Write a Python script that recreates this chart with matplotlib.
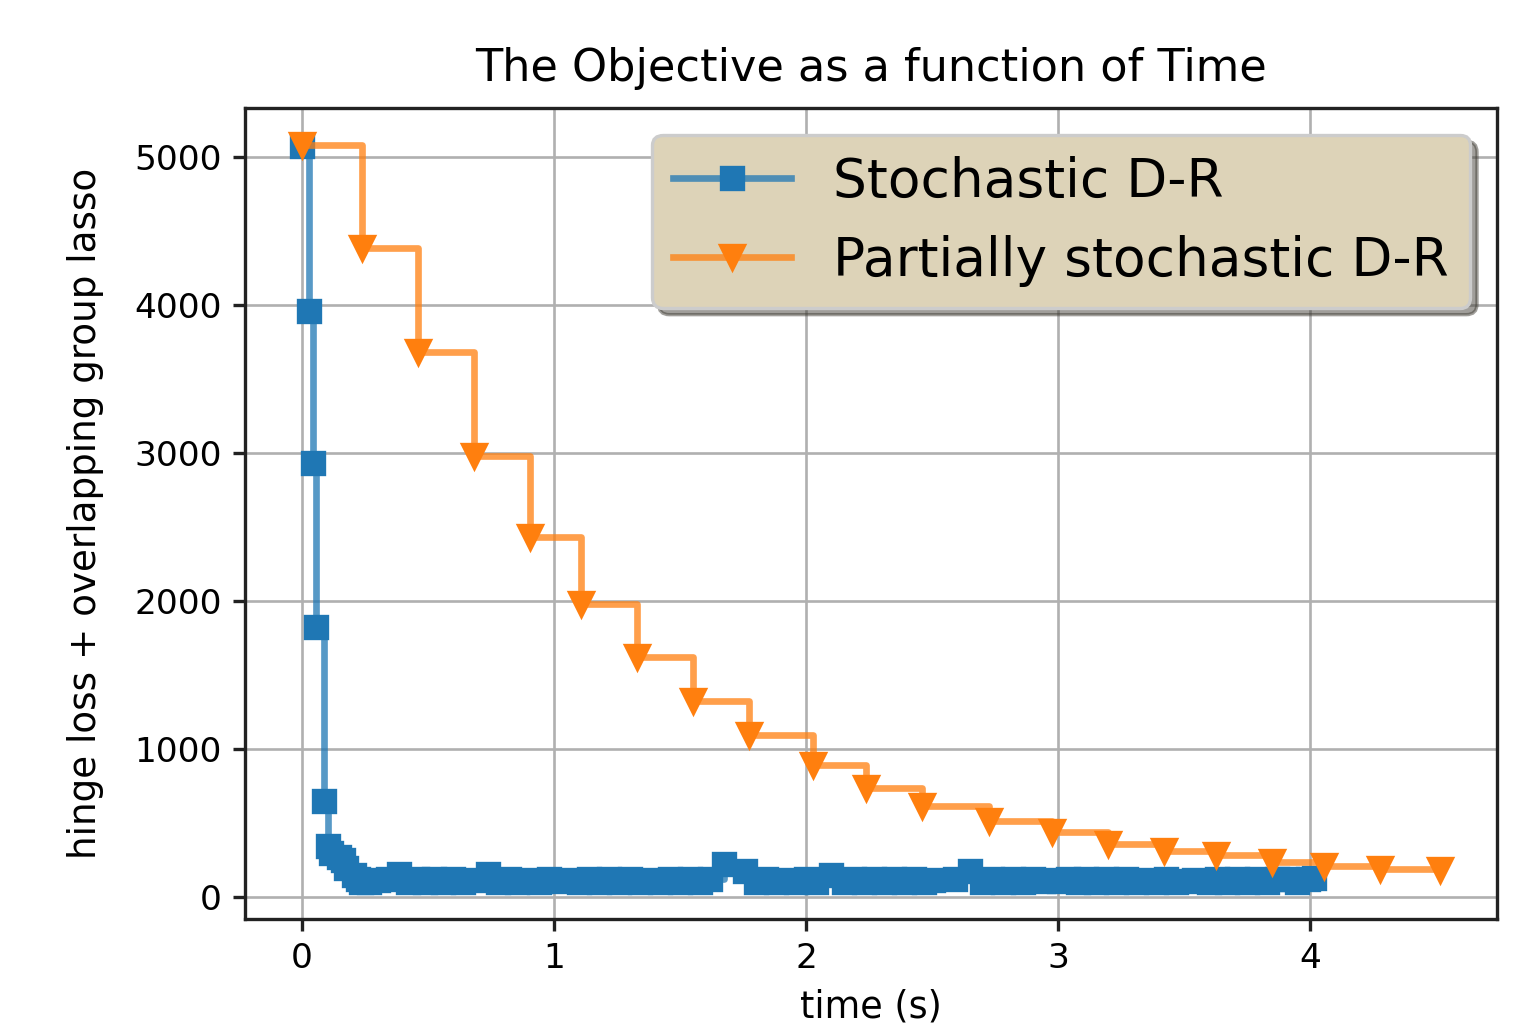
import matplotlib
matplotlib.use("Agg")
import matplotlib.pyplot as plt
from matplotlib.legend_handler import HandlerTuple

# ---------------- data ----------------
title = "The Objective as a function of Time"
xlabel = "time (s)"
ylabel = "hinge loss + overlapping group lasso"
label_sto = "Stochastic D-R"
label_part = "Partially stochastic D-R"

# Stochastic D-R (time, objective)
sto_time = [0.000, 0.027, 0.044, 0.056, 0.087, 0.104, 0.116, 0.146, 0.162, 0.175,
            0.206, 0.221, 0.235, 0.265, 0.300, 0.340, 0.384, 0.420, 0.455, 0.490,
            0.525, 0.560, 0.600, 0.640, 0.680, 0.740, 0.780, 0.820, 0.855, 0.905,
            0.940, 0.980, 1.020, 1.060, 1.100, 1.140, 1.180, 1.220, 1.260, 1.300,
            1.340, 1.380, 1.420, 1.460, 1.500, 1.540, 1.580, 1.620, 1.675, 1.760,
            1.800, 1.840, 1.880, 1.920, 1.960, 2.000, 2.040, 2.100, 2.150, 2.190,
            2.230, 2.270, 2.310, 2.350, 2.390, 2.430, 2.470, 2.505, 2.590, 2.650,
            2.700, 2.740, 2.780, 2.820, 2.860, 2.900, 2.940, 2.970, 3.005, 3.040,
            3.080, 3.110, 3.150, 3.190, 3.230, 3.270, 3.310, 3.350, 3.390, 3.430,
            3.470, 3.510, 3.540, 3.600, 3.630, 3.670, 3.710, 3.750, 3.790, 3.830,
            3.870, 3.910, 3.950, 3.990, 4.015]
sto_obj = [5075, 3955, 2930, 1825, 648, 346, 299, 272, 246, 192,
           145, 118, 99, 100, 114, 118, 151, 100, 121, 101,
           118, 100, 122, 103, 112, 151, 100, 120, 101, 112,
           100, 122, 104, 116, 100, 121, 102, 118, 100, 123,
           101, 115, 100, 122, 102, 118, 100, 117, 224, 171,
           100, 121, 102, 116, 100, 122, 101, 150, 100, 119,
           102, 121, 100, 118, 101, 122, 103, 112, 118, 171,
           100, 120, 102, 117, 100, 121, 105, 112, 106, 118,
           102, 121, 100, 118, 103, 122, 100, 116, 101, 121,
           102, 104, 112, 100, 121, 102, 118, 100, 122, 101,
           119, 123, 102, 120, 128]

# Partially stochastic D-R (time, objective)
part_time = [0.000, 0.238, 0.460, 0.683, 0.905, 1.107, 1.329, 1.552, 1.774, 2.028,
             2.238, 2.460, 2.726, 2.976, 3.198, 3.421, 3.627, 3.849, 4.056, 4.278,
             4.516]
part_obj = [5080, 4380, 3680, 2980, 2430, 1980, 1620, 1320, 1090, 890,
            736, 611, 510, 436, 358, 306, 284, 237, 210, 186,
            180]

blue = "#1f77b4"
orange = "#ff7f0e"

# ---------------- figure ----------------
fig = plt.figure(figsize=(1537 / 240, 1033 / 240), dpi=240)
ax = fig.add_axes([245 / 1537, 1 - 919 / 1033, (1497 - 245) / 1537, (919 - 108) / 1033])

l1, = ax.plot(sto_time, sto_obj, drawstyle="steps-post", color=blue, lw=2.0,
              alpha=0.75, zorder=2)
m1, = ax.plot(sto_time, sto_obj, ls="none", marker="s", ms=6.7, color=blue,
              zorder=3)
l2, = ax.plot(part_time, part_obj, drawstyle="steps-post", color=orange, lw=2.0,
              alpha=0.75, zorder=4)
m2, = ax.plot(part_time, part_obj, ls="none", marker="v", ms=7, color=orange,
              zorder=5)

ax.grid(True, color="#b0b0b0", lw=0.8)
ax.set_axisbelow(True)
for s in ax.spines.values():
    s.set_linewidth(1.0)
    s.set_color("#222222")

ax.tick_params(labelsize=10.3, length=3.5, width=1.0, color="#222222")
ax.set_xticks([0, 1, 2, 3, 4])
ax.set_yticks([0, 1000, 2000, 3000, 4000, 5000])

ax.set_title(title, fontsize=13.4, pad=8)
ax.set_xlabel(xlabel, fontsize=11)
ax.set_ylabel(ylabel, fontsize=11.2, labelpad=9)

leg = ax.legend([(l1, m1), (l2, m2)], [label_sto, label_part],
                handler_map={tuple: HandlerTuple(ndivide=1, pad=0)},
                loc="upper right", fontsize=16, shadow=True, fancybox=True,
                facecolor="#ddd3b8", edgecolor="0.8", framealpha=1,
                borderpad=0.4, labelspacing=0.5, handlelength=2.2,
                numpoints=1)

fig.savefig("out.png", dpi=240)
